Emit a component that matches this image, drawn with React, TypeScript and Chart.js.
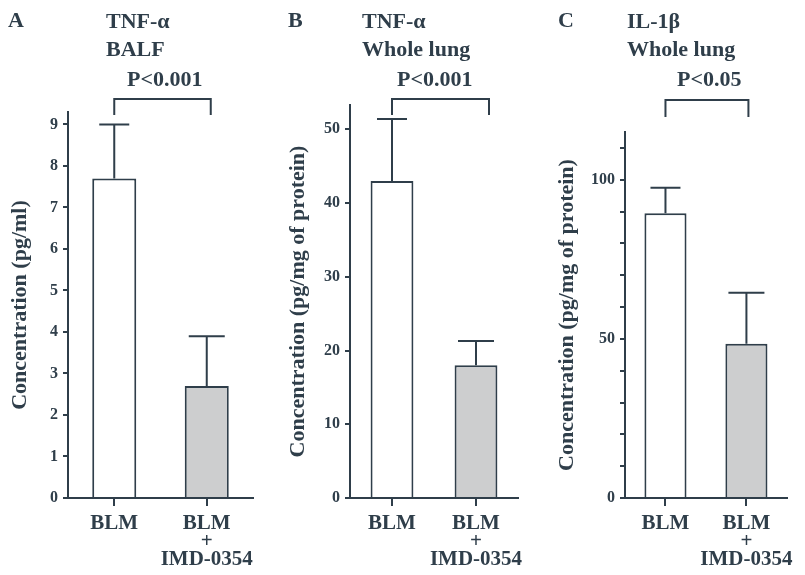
import React, { useEffect, useRef } from 'react';
import { Chart, registerables } from 'chart.js';

Chart.register(...registerables);

// Treatment groups shared by all three panels
const groupLabels: (string | string[])[] = ['BLM', ['BLM', '+', 'IMD-0354']];

// Panel A: TNF-α in BALF (pg/ml)
const tnfBalfMean = [7.7, 2.7];
const tnfBalfError = [1.3, 1.2];

// Panel B: TNF-α in whole lung (pg/mg of protein)
const tnfLungMean = [43, 18];
const tnfLungError = [8.4, 3.3];

// Panel C: IL-1β in whole lung (pg/mg of protein)
const il1LungMean = [89.5, 48.5];
const il1LungError = [8, 16];

const panelLetters = ['A', 'B', 'C'];
const panelTitles = [
  ['TNF-α', 'BALF'],
  ['TNF-α', 'Whole lung'],
  ['IL-1β', 'Whole lung'],
];
const pValueLabels = ['P<0.001', 'P<0.001', 'P<0.05'];
const yAxisTitles = [
  'Concentration (pg/ml)',
  'Concentration (pg/mg of protein)',
  'Concentration (pg/mg of protein)',
];
const yAxisMax = [9.3, 53.3, 115];
const yTickStep = [1, 10, 10];
const yLabelEvery = [1, 10, 50];

const INK = '#2f3e4a';
const BAR_FILLS = ['#ffffff', '#cdcecf'];
const SERIF = '"Liberation Serif", "DejaVu Serif", serif';

type Layout = {
  left: number;
  width: number;
  axisWidth: number;
  padRight: number;
  padTop: number;
  yTitlePad: number;
  barPct: number;
  letterX: number;
  titleX: number;
  pX: number;
  bracketTop: number;
  bracketBottom: number;
  bracketRightShift: number;
};

const layouts: Layout[] = [
  { left: 0, width: 268, axisWidth: 68, padRight: 15, padTop: 112, yTitlePad: 7, barPct: 0.476, letterX: 8, titleX: 106, pX: 127, bracketTop: 99, bracketBottom: 115, bracketRightShift: 4 },
  { left: 268, width: 270, axisWidth: 82, padRight: 20, padTop: 105, yTitlePad: 17, barPct: 0.51, letterX: 288, titleX: 362, pX: 397, bracketTop: 99, bracketBottom: 115, bracketRightShift: 13 },
  { left: 538, width: 267, axisWidth: 87, padRight: 14, padTop: 132, yTitlePad: 16, barPct: 0.52, letterX: 558, titleX: 627, pX: 677, bracketTop: 100, bracketBottom: 117, bracketRightShift: 2 },
];

const seriesMeans = [tnfBalfMean, tnfLungMean, il1LungMean];
const seriesErrors = [tnfBalfError, tnfLungError, il1LungError];

function BarPanel({ index }: { index: number }) {
  const ref = useRef<HTMLCanvasElement | null>(null);
  const lay = layouts[index];

  useEffect(() => {
    if (!ref.current) return;
    const means = seriesMeans[index];
    const errors = seriesErrors[index];

    const annotations = {
      id: 'panelAnnotations',
      afterDatasetsDraw(chart: Chart) {
        const ctx = chart.ctx;
        const xs = chart.scales.x;
        const ys = chart.scales.y;
        ctx.save();
        ctx.strokeStyle = INK;
        ctx.lineWidth = 2;
        ctx.lineCap = 'butt';

        // error bars (upper half only)
        const meta = chart.getDatasetMeta(0);
        meta.data.forEach((bar: any, i: number) => {
          const x = bar.x;
          const yTop = ys.getPixelForValue(means[i]);
          const yErr = ys.getPixelForValue(means[i] + errors[i]);
          const cap = i === 0 ? 30 : 36;
          ctx.beginPath();
          ctx.moveTo(x, yTop);
          ctx.lineTo(x, yErr);
          ctx.moveTo(x - cap / 2, yErr);
          ctx.lineTo(x + cap / 2, yErr);
          ctx.stroke();
        });

        // significance bracket
        const off = lay.left;
        const bx0 = xs.getPixelForValue(0);
        const bx1 = xs.getPixelForValue(1) + lay.bracketRightShift;
        ctx.beginPath();
        ctx.moveTo(bx0, lay.bracketBottom);
        ctx.lineTo(bx0, lay.bracketTop);
        ctx.lineTo(bx1, lay.bracketTop);
        ctx.lineTo(bx1, lay.bracketBottom);
        ctx.stroke();

        // panel letter, titles and p-value
        ctx.fillStyle = INK;
        ctx.textBaseline = 'alphabetic';
        ctx.textAlign = 'left';
        ctx.font = `bold 22px ${SERIF}`;
        ctx.fillText(panelLetters[index], lay.letterX - off, 27);
        ctx.fillText(panelTitles[index][0], lay.titleX - off, 28);
        ctx.fillText(panelTitles[index][1], lay.titleX - off, 56);
        ctx.fillText(pValueLabels[index], lay.pX - off, 86);
        ctx.restore();
      },
    };

    const chart = new Chart(ref.current, {
      type: 'bar',
      data: {
        labels: groupLabels as any,
        datasets: [
          {
            data: means,
            backgroundColor: BAR_FILLS,
            borderColor: INK,
            borderWidth: 2,
            barPercentage: lay.barPct,
            categoryPercentage: 1,
          },
        ],
      },
      options: {
        responsive: false,
        animation: false,
        devicePixelRatio: 1,
        layout: {
          padding: { left: 0, right: lay.padRight, top: lay.padTop, bottom: 6 },
        },
        plugins: {
          legend: { display: false },
          tooltip: { enabled: false },
          title: { display: false },
        },
        scales: {
          x: {
            type: 'category',
            grid: {
              display: true,
              drawOnChartArea: false,
              drawTicks: true,
              offset: false,
              tickLength: 8,
              color: INK,
              lineWidth: 2,
            },
            border: { display: true, color: INK, width: 2 },
            ticks: {
              color: INK,
              padding: 9,
              maxRotation: 0,
              autoSkip: false,
              font: { family: SERIF, weight: 'bold', size: 21, lineHeight: '18px' } as any,
            },
            afterFit: (scale: any) => {
              scale.height = 71;
            },
          },
          y: {
            type: 'linear',
            min: 0,
            max: yAxisMax[index],
            grid: {
              display: true,
              drawOnChartArea: false,
              drawTicks: true,
              tickLength: 5,
              color: INK,
              lineWidth: 2,
            },
            border: { display: true, color: INK, width: 2 },
            ticks: {
              stepSize: yTickStep[index],
              includeBounds: false,
              color: INK,
              padding: 5,
              font: { family: SERIF, weight: 'bold', size: 16 },
              callback: (v: any) => (Number(v) % yLabelEvery[index] === 0 ? String(v) : ''),
            },
            title: {
              display: true,
              text: yAxisTitles[index],
              color: INK,
              padding: { top: lay.yTitlePad, bottom: 0 },
              font: { family: SERIF, weight: 'bold', size: 22 },
            },
            afterFit: (scale: any) => {
              scale.width = lay.axisWidth;
            },
          },
        },
      },
      plugins: [annotations],
    });

    return () => chart.destroy();
  }, [index]);

  return (
    <canvas
      ref={ref}
      width={lay.width}
      height={575}
      style={{ position: 'absolute', left: lay.left, top: 0, width: lay.width, height: 575 }}
    />
  );
}

export default function App() {
  return (
    <div
      style={{
        position: 'absolute',
        left: 0,
        top: 0,
        width: 805,
        height: 575,
        background: '#ffffff',
        overflow: 'hidden',
      }}
    >
      {[0, 1, 2].map((i) => (
        <BarPanel key={i} index={i} />
      ))}
    </div>
  );
}
